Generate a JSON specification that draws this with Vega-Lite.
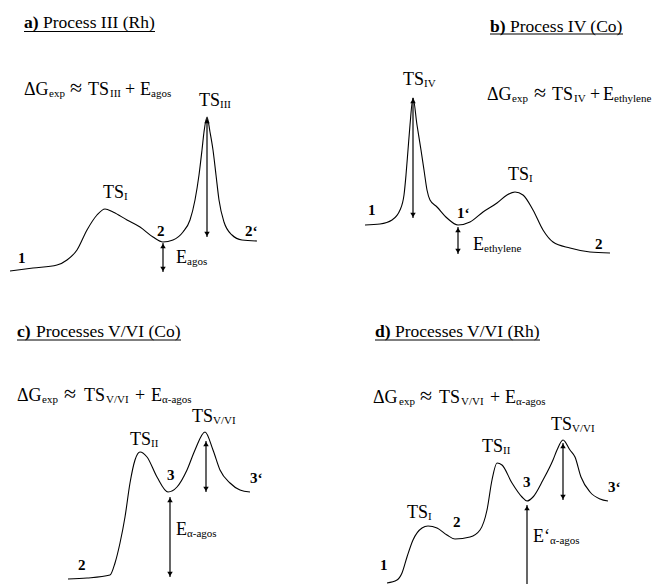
{
  "$schema": "https://vega.github.io/schema/vega-lite/v6.json",
  "width": 653,
  "height": 584,
  "padding": 0,
  "autosize": {"type": "none"},
  "background": "white",
  "config": {"view": {"stroke": null}},
  "datasets": {
    "curves": [
      {"p":"a","i":1,"x":10,"y":271},{"p":"a","i":2,"x":33,"y":268},{"p":"a","i":3,"x":57,"y":265},{"p":"a","i":4,"x":67,"y":260},{"p":"a","i":5,"x":77,"y":250},{"p":"a","i":6,"x":87,"y":230},{"p":"a","i":7,"x":97,"y":215},{"p":"a","i":8,"x":105,"y":209},{"p":"a","i":9,"x":113,"y":212},{"p":"a","i":10,"x":127,"y":220},{"p":"a","i":11,"x":140,"y":227},{"p":"a","i":12,"x":153,"y":237},{"p":"a","i":13,"x":163,"y":242},{"p":"a","i":14,"x":173,"y":240},{"p":"a","i":15,"x":183,"y":232},{"p":"a","i":16,"x":190,"y":220},{"p":"a","i":17,"x":195,"y":200},{"p":"a","i":18,"x":199,"y":175},{"p":"a","i":19,"x":202,"y":150},{"p":"a","i":20,"x":204,"y":132},{"p":"a","i":21,"x":207,"y":117},{"p":"a","i":22,"x":210,"y":132},{"p":"a","i":23,"x":213,"y":150},{"p":"a","i":24,"x":216,"y":175},{"p":"a","i":25,"x":219,"y":200},{"p":"a","i":26,"x":224,"y":222},{"p":"a","i":27,"x":232,"y":235},{"p":"a","i":28,"x":242,"y":240},{"p":"a","i":29,"x":257,"y":241},
      {"p":"b","i":1,"x":365,"y":225},{"p":"b","i":2,"x":380,"y":224},{"p":"b","i":3,"x":392,"y":220},{"p":"b","i":4,"x":400,"y":210},{"p":"b","i":5,"x":404,"y":195},{"p":"b","i":6,"x":406,"y":175},{"p":"b","i":7,"x":408,"y":150},{"p":"b","i":8,"x":410,"y":125},{"p":"b","i":9,"x":413,"y":98},{"p":"b","i":10,"x":417,"y":125},{"p":"b","i":11,"x":421,"y":150},{"p":"b","i":12,"x":424,"y":170},{"p":"b","i":13,"x":427,"y":190},{"p":"b","i":14,"x":430,"y":200},{"p":"b","i":15,"x":437,"y":207},{"p":"b","i":16,"x":447,"y":218},{"p":"b","i":17,"x":458,"y":225},{"p":"b","i":18,"x":470,"y":222},{"p":"b","i":19,"x":483,"y":212},{"p":"b","i":20,"x":497,"y":203},{"p":"b","i":21,"x":507,"y":195},{"p":"b","i":22,"x":515,"y":192},{"p":"b","i":23,"x":523,"y":195},{"p":"b","i":24,"x":533,"y":210},{"p":"b","i":25,"x":543,"y":230},{"p":"b","i":26,"x":553,"y":242},{"p":"b","i":27,"x":570,"y":248},{"p":"b","i":28,"x":590,"y":252},{"p":"b","i":29,"x":610,"y":253},
      {"p":"c","i":1,"x":68,"y":579},{"p":"c","i":2,"x":87,"y":578},{"p":"c","i":3,"x":110,"y":575},{"p":"c","i":4,"x":115,"y":563},{"p":"c","i":5,"x":120,"y":543},{"p":"c","i":6,"x":125,"y":517},{"p":"c","i":7,"x":130,"y":483},{"p":"c","i":8,"x":135,"y":460},{"p":"c","i":9,"x":140,"y":452},{"p":"c","i":10,"x":147,"y":457},{"p":"c","i":11,"x":157,"y":477},{"p":"c","i":12,"x":168,"y":492},{"p":"c","i":13,"x":177,"y":487},{"p":"c","i":14,"x":187,"y":470},{"p":"c","i":15,"x":195,"y":450},{"p":"c","i":16,"x":205,"y":432},{"p":"c","i":17,"x":213,"y":450},{"p":"c","i":18,"x":220,"y":470},{"p":"c","i":19,"x":230,"y":483},{"p":"c","i":20,"x":240,"y":490},{"p":"c","i":21,"x":250,"y":492},
      {"p":"d","i":1,"x":387,"y":583},{"p":"d","i":2,"x":397,"y":580},{"p":"d","i":3,"x":402,"y":573},{"p":"d","i":4,"x":407,"y":557},{"p":"d","i":5,"x":413,"y":540},{"p":"d","i":6,"x":422,"y":528},{"p":"d","i":7,"x":428,"y":526},{"p":"d","i":8,"x":437,"y":528},{"p":"d","i":9,"x":447,"y":535},{"p":"d","i":10,"x":455,"y":539},{"p":"d","i":11,"x":470,"y":537},{"p":"d","i":12,"x":480,"y":530},{"p":"d","i":13,"x":487,"y":510},{"p":"d","i":14,"x":492,"y":480},{"p":"d","i":15,"x":497,"y":463},{"p":"d","i":16,"x":502,"y":465},{"p":"d","i":17,"x":512,"y":483},{"p":"d","i":18,"x":522,"y":497},{"p":"d","i":19,"x":527,"y":501},{"p":"d","i":20,"x":533,"y":497},{"p":"d","i":21,"x":543,"y":480},{"p":"d","i":22,"x":553,"y":460},{"p":"d","i":23,"x":557,"y":450},{"p":"d","i":24,"x":563,"y":440},{"p":"d","i":25,"x":570,"y":450},{"p":"d","i":26,"x":575,"y":457},{"p":"d","i":27,"x":581,"y":477},{"p":"d","i":28,"x":590,"y":492},{"p":"d","i":29,"x":600,"y":499},{"p":"d","i":30,"x":608,"y":501}
    ],
    "arrows": [
      {"x":207,"y":118,"y2":237},{"x":163,"y":243,"y2":272},{"x":413,"y":98,"y2":218},{"x":458,"y":227,"y2":254},
      {"x":206,"y":441,"y2":492},{"x":170,"y":497,"y2":577},{"x":563,"y":443,"y2":500},{"x":527,"y":505,"y2":584}
    ],
    "headsUp": [
      {"x":207,"y":118},{"x":163,"y":243},{"x":413,"y":98},{"x":458,"y":227},{"x":206,"y":441},{"x":170,"y":497},{"x":563,"y":443},{"x":527,"y":505}
    ],
    "headsDown": [
      {"x":207,"y":237},{"x":163,"y":272},{"x":413,"y":218},{"x":458,"y":254},{"x":206,"y":492},{"x":170,"y":577},{"x":563,"y":500}
    ],
    "underlines": [
      {"x":24,"x2":155,"y":31.5},{"x":490,"x2":623,"y":34},{"x":17,"x2":181,"y":340},{"x":375,"x2":540,"y":340}
    ],
    "textNormal": [
      {"x":43,"y":28,"t":"Process III (Rh)","s":17.5},
      {"x":24,"y":95,"t":"ΔG","s":18},{"x":49,"y":97,"t":"exp","s":11},{"x":70,"y":95,"t":"≈","s":22},{"x":88,"y":95,"t":"TS","s":18},{"x":110,"y":97,"t":"III","s":11},{"x":125,"y":95,"t":"+","s":18},{"x":140,"y":95,"t":"E","s":18},{"x":151,"y":97,"t":"agos","s":11},
      {"x":199,"y":106,"t":"TS","s":18},{"x":220,"y":108,"t":"III","s":11},
      {"x":103,"y":198,"t":"TS","s":18},{"x":124,"y":200,"t":"I","s":11},
      {"x":176,"y":263,"t":"E","s":18},{"x":187,"y":265,"t":"agos","s":11},
      {"x":510,"y":32,"t":"Process IV (Co)","s":17.5},
      {"x":403,"y":85,"t":"TS","s":18},{"x":424,"y":87,"t":"IV","s":11},
      {"x":487,"y":100,"t":"ΔG","s":18},{"x":512,"y":102,"t":"exp","s":11},{"x":534,"y":100,"t":"≈","s":22},{"x":552,"y":100,"t":"TS","s":18},{"x":574,"y":102,"t":"IV","s":11},{"x":590,"y":100,"t":"+","s":18},{"x":603,"y":100,"t":"E","s":18},{"x":614,"y":102,"t":"ethylene","s":11},
      {"x":508,"y":180,"t":"TS","s":18},{"x":529,"y":182,"t":"I","s":11},
      {"x":473,"y":250,"t":"E","s":18},{"x":484,"y":252,"t":"ethylene","s":11},
      {"x":36,"y":337,"t":"Processes V/VI (Co)","s":17.5},
      {"x":17,"y":401,"t":"ΔG","s":18},{"x":42,"y":403,"t":"exp","s":11},{"x":64,"y":401,"t":"≈","s":22},{"x":84,"y":401,"t":"TS","s":18},{"x":106,"y":403,"t":"V/VI","s":11},{"x":135,"y":401,"t":"+","s":18},{"x":151,"y":401,"t":"E","s":18},{"x":162,"y":403,"t":"α-agos","s":11},
      {"x":192,"y":422,"t":"TS","s":18},{"x":213,"y":424,"t":"V/VI","s":11},
      {"x":130,"y":445,"t":"TS","s":18},{"x":151,"y":447,"t":"II","s":11},
      {"x":176,"y":535,"t":"E","s":18},{"x":187,"y":537,"t":"α-agos","s":11},
      {"x":395,"y":337,"t":"Processes V/VI (Rh)","s":17.5},
      {"x":373,"y":403,"t":"ΔG","s":18},{"x":399,"y":405,"t":"exp","s":11},{"x":420,"y":403,"t":"≈","s":22},{"x":439,"y":403,"t":"TS","s":18},{"x":461,"y":405,"t":"V/VI","s":11},{"x":490,"y":403,"t":"+","s":18},{"x":505,"y":403,"t":"E","s":18},{"x":516,"y":405,"t":"α-agos","s":11},
      {"x":551,"y":430,"t":"TS","s":18},{"x":572,"y":432,"t":"V/VI","s":11},
      {"x":482,"y":452,"t":"TS","s":18},{"x":503,"y":454,"t":"II","s":11},
      {"x":407,"y":518,"t":"TS","s":18},{"x":428,"y":520,"t":"I","s":11},
      {"x":533,"y":542,"t":"E‘","s":18},{"x":550,"y":544,"t":"α-agos","s":11}
    ],
    "textBold": [
      {"x":24,"y":28,"t":"a)","s":17.5},{"x":157,"y":236,"t":"2","s":15},{"x":245,"y":236,"t":"2‘","s":15},{"x":18,"y":263,"t":"1","s":15},
      {"x":490,"y":32,"t":"b)","s":17.5},{"x":368,"y":215,"t":"1","s":15},{"x":457,"y":218,"t":"1‘","s":15},{"x":595,"y":249,"t":"2","s":15},
      {"x":17,"y":337,"t":"c)","s":17.5},{"x":167,"y":480,"t":"3","s":15},{"x":250,"y":483,"t":"3‘","s":15},{"x":78,"y":570,"t":"2","s":15},
      {"x":375,"y":337,"t":"d)","s":17.5},{"x":380,"y":570,"t":"1","s":15},{"x":453,"y":527,"t":"2","s":15},{"x":523,"y":487,"t":"3","s":15},{"x":608,"y":492,"t":"3‘","s":15}
    ]
  },
  "layer": [
    {
      "data": {"name": "curves"},
      "mark": {"type": "line", "interpolate": "monotone", "color": "black", "strokeWidth": 1.1},
      "encoding": {
        "x": {"field": "x", "type": "quantitative", "scale": {"domain": [0, 653], "nice": false, "zero": false}, "axis": null},
        "y": {"field": "y", "type": "quantitative", "scale": {"domain": [0, 584], "nice": false, "zero": false, "reverse": true}, "axis": null},
        "detail": {"field": "p"},
        "order": {"field": "i", "type": "quantitative"}
      }
    },
    {
      "data": {"name": "arrows"},
      "mark": {"type": "rule", "color": "black", "strokeWidth": 1.2},
      "encoding": {
        "x": {"field": "x", "type": "quantitative", "axis": null},
        "y": {"field": "y", "type": "quantitative", "axis": null},
        "y2": {"field": "y2"}
      }
    },
    {
      "data": {"name": "underlines"},
      "mark": {"type": "rule", "color": "black", "strokeWidth": 1},
      "encoding": {
        "x": {"field": "x", "type": "quantitative", "axis": null},
        "x2": {"field": "x2"},
        "y": {"field": "y", "type": "quantitative", "axis": null}
      }
    },
    {
      "data": {"name": "headsUp"},
      "mark": {"type": "point", "shape": "triangle-up", "filled": true, "color": "black", "size": 30, "opacity": 1, "yOffset": 3},
      "encoding": {
        "x": {"field": "x", "type": "quantitative", "axis": null},
        "y": {"field": "y", "type": "quantitative", "axis": null}
      }
    },
    {
      "data": {"name": "headsDown"},
      "mark": {"type": "point", "shape": "triangle-down", "filled": true, "color": "black", "size": 30, "opacity": 1, "yOffset": -3},
      "encoding": {
        "x": {"field": "x", "type": "quantitative", "axis": null},
        "y": {"field": "y", "type": "quantitative", "axis": null}
      }
    },
    {
      "data": {"name": "textNormal"},
      "mark": {"type": "text", "font": "Liberation Serif", "align": "left", "baseline": "alphabetic", "color": "black"},
      "encoding": {
        "x": {"field": "x", "type": "quantitative", "axis": null},
        "y": {"field": "y", "type": "quantitative", "axis": null},
        "text": {"field": "t"},
        "size": {"field": "s", "type": "quantitative", "scale": null}
      }
    },
    {
      "data": {"name": "textBold"},
      "mark": {"type": "text", "font": "Liberation Serif", "fontWeight": "bold", "align": "left", "baseline": "alphabetic", "color": "black"},
      "encoding": {
        "x": {"field": "x", "type": "quantitative", "axis": null},
        "y": {"field": "y", "type": "quantitative", "axis": null},
        "text": {"field": "t"},
        "size": {"field": "s", "type": "quantitative", "scale": null}
      }
    }
  ]
}
